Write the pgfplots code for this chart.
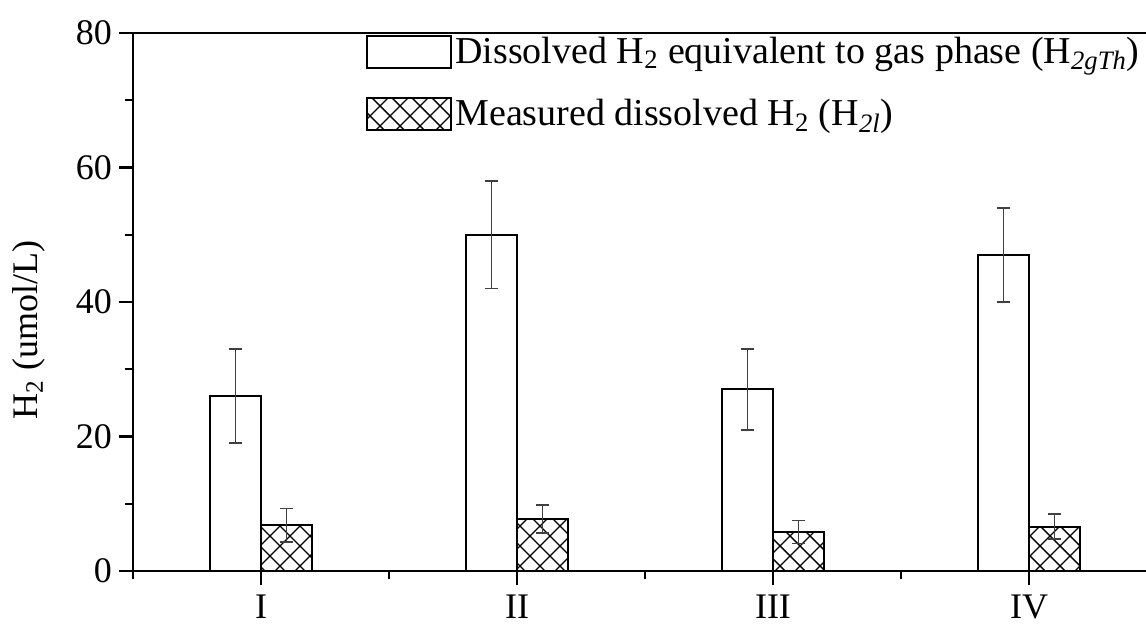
\documentclass[border=0pt]{standalone}
\usepackage{fontspec}
\setmainfont{Liberation Serif}
\usepackage{pgfplots}
\pgfplotsset{compat=1.18}
\usetikzlibrary{patterns}
\pgfdeclarepatternformonly{mycross}{\pgfqpoint{-1pt}{-1pt}}{\pgfqpoint{11pt}{11pt}}{\pgfqpoint{10pt}{10pt}}{%
  \pgfsetlinewidth{0.7pt}%
  \pgfpathmoveto{\pgfqpoint{0pt}{0pt}}\pgfpathlineto{\pgfqpoint{10pt}{10pt}}%
  \pgfpathmoveto{\pgfqpoint{0pt}{10pt}}\pgfpathlineto{\pgfqpoint{10pt}{0pt}}%
  \pgfusepath{stroke}}
\begin{document}
\begin{tikzpicture}
\begin{axis}[
  at={(0pt,0pt)}, anchor=south west,
  scale only axis, width=512pt, height=269pt,
  xmin=0.5, xmax=4.5, ymin=0, ymax=80,
  tick align=outside,
  xtick pos=bottom, ytick pos=left,
  xtick={1,2,3,4}, xticklabels={I,II,III,IV},
  minor xtick={0.5,1.5,2.5,3.5,4.5},
  ytick={0,20,40,60,80}, minor ytick={10,30,50,70},
  major tick length=7pt, minor tick length=4pt,
  every tick/.style={black, line width=1.2pt},
  axis line style={line width=1.3pt},
  tick label style={font=\fontsize{18}{20}\selectfont},
  xticklabel style={yshift=-1.5pt},
  /pgf/number format/assume math mode=true,
  ylabel={H\textsubscript{2} (umol/L)},
  ylabel style={font=\fontsize{18}{20}\selectfont, at={(axis description cs:-0.1016,0.448)}, anchor=center},
  legend cell align=left,
  legend style={at={(axis description cs:0.2275,1)}, anchor=north west, xshift=-3pt, yshift=2.25pt,
    draw=none, fill=none, font=\fontsize{19}{22}\selectfont, row sep=12.5pt,
    nodes={inner xsep=1.5pt}},
]
\addplot[ybar, bar width=0.2, bar shift=0pt, draw=black, fill=white, line width=1pt,
  legend image code/.code={\draw[line width=1pt, fill=white] (0pt,-8pt) rectangle (42pt,8pt);},
  error bars/.cd, y dir=both, y explicit, error mark=-,
  error bar style={line width=0.7pt, black!75},
  error mark options={rotate=90, mark size=3.3pt, line width=0.9pt, black!75}]
  coordinates {(0.9,26) +- (0,7) (1.9,50) +- (0,8) (2.9,27) +- (0,6) (3.9,47) +- (0,7)};
\addlegendentry{Dissolved H\textsubscript{2} equivalent to gas phase (H\textsubscript{\textit{2gTh}})}
\addplot[ybar, bar width=0.2, bar shift=0pt, draw=black, pattern=mycross, line width=1pt,
  legend image code/.code={\draw[line width=1pt, pattern=mycross] (0pt,-8pt) rectangle (42pt,8pt);},
  error bars/.cd, y dir=both, y explicit, error mark=-,
  error bar style={line width=0.7pt, black!75},
  error mark options={rotate=90, mark size=3.3pt, line width=0.9pt, black!75}]
  coordinates {(1.1,6.8) +- (0,2.5) (2.1,7.7) +- (0,2.1) (3.1,5.8) +- (0,1.7) (4.1,6.6) +- (0,1.9)};
\addlegendentry{Measured dissolved H\textsubscript{2} (H\textsubscript{\textit{2l}})}
\end{axis}
\pgfresetboundingbox
\useasboundingbox (-66.5pt,-27.5pt) rectangle (506.5pt,285.5pt);
\end{tikzpicture}
\end{document}
